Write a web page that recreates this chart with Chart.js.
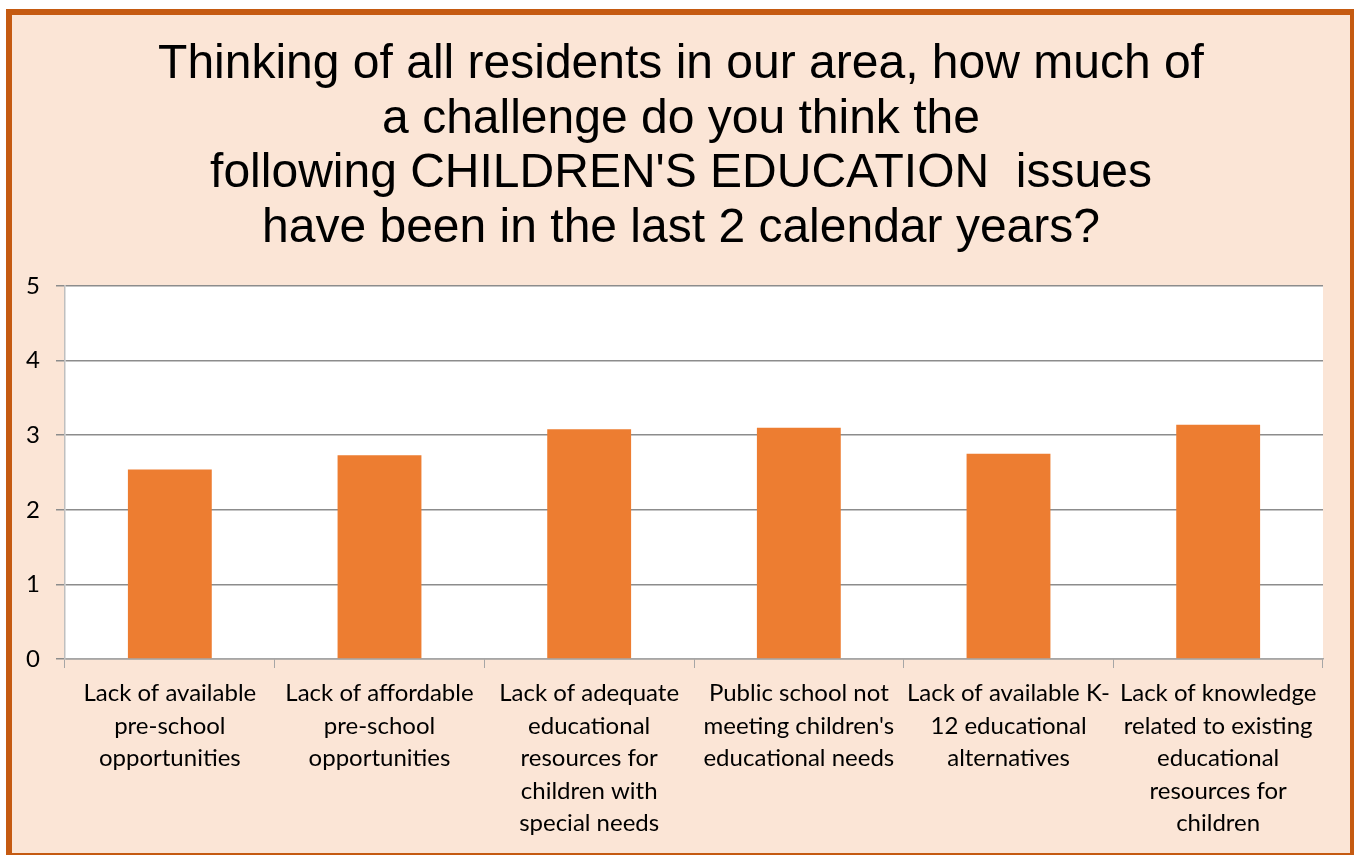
<!DOCTYPE html>
<html>
<head>
<meta charset="utf-8">
<script src="https://cdn.jsdelivr.net/npm/chart.js@4"></script>
<style>
    body { margin: 0; background: #ffffff; }
    .frame {
        position: absolute;
        left: 6px;
        top: 9px;
        width: 1338px;
        height: 838px;
        border: 6px solid #C55A11;
        background: #FBE5D6;
    }
    canvas { display: block; }
</style>
</head>
<body>
<div class="frame">
    <canvas id="issuesChart" width="1338" height="838"></canvas>
</div>
<script>
// Survey data: average challenge rating for each education issue
const issues = [
    ['Lack of available', 'pre-school', 'opportunities'],
    ['Lack of affordable', 'pre-school', 'opportunities'],
    ['Lack of adequate', 'educational', 'resources for', 'children with', 'special needs'],
    ['Public school not', "meeting children's", 'educational needs'],
    ['Lack of available K-', '12 educational', 'alternatives'],
    ['Lack of knowledge', 'related to existing', 'educational', 'resources for', 'children']
];
const ratings = [2.54, 2.73, 3.08, 3.10, 2.75, 3.14];
const yTicks = [0, 1, 2, 3, 4, 5];

const titleLines = [
    'Thinking of all residents in our area, how much of',
    'a challenge do you think the',
    "following CHILDREN'S EDUCATION  issues",
    'have been in the last 2 calendar years?'
];

// white background behind the plot area only
const plotBackground = {
    id: 'plotBackground',
    beforeDraw(chart) {
        const { ctx, chartArea } = chart;
        ctx.save();
        ctx.fillStyle = '#ffffff';
        ctx.fillRect(chartArea.left, chartArea.top, chartArea.right - chartArea.left, chartArea.bottom - chartArea.top);
        ctx.restore();
    }
};

// title centred on the whole canvas rather than the plot
const centredTitle = {
    id: 'centredTitle',
    afterDraw(chart) {
        const ctx = chart.ctx;
        ctx.save();
        ctx.font = '48px "Liberation Sans", Arial, sans-serif';
        ctx.fillStyle = '#000000';
        ctx.textAlign = 'center';
        ctx.textBaseline = 'alphabetic';
        titleLines.forEach((line, i) => {
            ctx.fillText(line, chart.width / 2, 63 + i * 54.7);
        });
        ctx.restore();
    }
};

const ctx = document.querySelector('#issuesChart').getContext('2d');

new Chart(ctx, {
    type: 'bar',
    data: {
        labels: issues,
        datasets: [{
            data: ratings,
            backgroundColor: '#ED7D31',
            borderWidth: 0,
            barPercentage: 0.4,
            categoryPercentage: 1.0
        }]
    },
    options: {
        responsive: false,
        animation: false,
        layout: {
            padding: { left: 0, right: 27, top: 271, bottom: 0 }
        },
        plugins: {
            legend: { display: false },
            tooltip: { enabled: false },
            title: { display: false }
        },
        scales: {
            x: {
                grid: {
                    display: true,
                    drawOnChartArea: false,
                    offset: true,
                    color: '#a6a6a6',
                    tickLength: 9
                },
                border: { color: '#a6a6a6', width: 1.5 },
                ticks: {
                    color: '#000000',
                    padding: 9,
                    maxRotation: 0,
                    autoSkip: false,
                    font: { family: 'Lato, sans-serif', size: 24, lineHeight: 1.355 }
                },
                afterFit(scale) { scale.height = 194; }
            },
            y: {
                min: 0,
                max: 5,
                afterBuildTicks(scale) {
                    scale.ticks = yTicks.map(v => ({ value: v }));
                },
                grid: {
                    color: '#8c8c8c',
                    lineWidth: 1.5,
                    tickLength: 9
                },
                border: { color: '#bfbfbf', width: 1.5 },
                ticks: {
                    color: '#000000',
                    padding: 16,
                    font: { family: 'Lato, sans-serif', size: 24 }
                },
                afterFit(scale) { scale.width = 53; }
            }
        }
    },
    plugins: [plotBackground, centredTitle]
});
</script>
</body>
</html>
